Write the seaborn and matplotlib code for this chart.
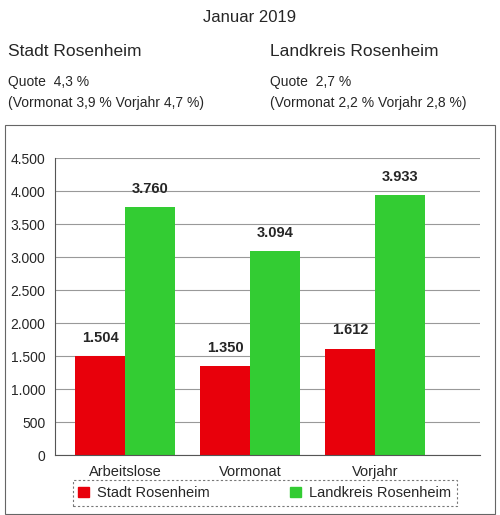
import matplotlib
matplotlib.use("Agg")
import matplotlib.pyplot as plt
import seaborn as sns
import pandas as pd
from matplotlib.patches import Rectangle

categories = ["Arbeitslose", "Vormonat", "Vorjahr"]
series = ["Stadt Rosenheim", "Landkreis Rosenheim"]
stadt = [1504, 1350, 1612]
landkreis = [3760, 3094, 3933]
colors = ["#e8000b", "#33cc33"]

rows = []
for c, s, l in zip(categories, stadt, landkreis):
    rows.append({"cat": c, "series": series[0], "val": s})
    rows.append({"cat": c, "series": series[1], "val": l})
df = pd.DataFrame(rows)

sns.set_style("white")
plt.rcParams["font.family"] = ["Liberation Sans", "DejaVu Sans"]

fig = plt.figure(figsize=(5, 5.15), dpi=100)
ax = fig.add_axes([0.11, 0.1165, 0.85, 0.5767])
sns.barplot(data=df, x="cat", y="val", hue="series", palette=colors,
            ax=ax, width=0.8, saturation=1, legend=False, linewidth=0)
ax.set_xlim(-0.56, 2.84)
ax.set_ylim(0, 4500)
ax.set_yticks(range(0, 4501, 500))
ax.set_yticklabels([f"{v:,}".replace(",", ".") for v in range(0, 4501, 500)], fontsize=10)
ax.tick_params(axis="x", labelsize=10.5, length=4, direction="out")
ax.set_xlabel(""); ax.set_ylabel("")
ax.yaxis.grid(True, color="#999999", linewidth=0.8)
ax.set_axisbelow(True)
for s in ["top", "right"]:
    ax.spines[s].set_visible(False)
ax.spines["left"].set_color("#555555")
ax.spines["bottom"].set_color("#555555")
for cont in ax.containers:
    ax.bar_label(cont, labels=[f"{int(v.get_height()):,}".replace(",", ".") for v in cont],
                 padding=8, fontsize=10.5, fontweight="bold")

fig.text(0.5, 1 - 18/515, "Januar 2019", ha="center", va="center", fontsize=12)
fig.text(0.016, 1 - 52/515, "Stadt Rosenheim", ha="left", va="center", fontsize=12.5)
fig.text(0.54, 1 - 52/515, "Landkreis Rosenheim", ha="left", va="center", fontsize=12.5)
fig.text(0.016, 1 - 82/515, "Quote  4,3 %", ha="left", va="center", fontsize=10)
fig.text(0.54, 1 - 82/515, "Quote  2,7 %", ha="left", va="center", fontsize=10)
fig.text(0.016, 1 - 103/515, "(Vormonat 3,9 % Vorjahr 4,7 %)", ha="left", va="center", fontsize=10)
fig.text(0.54, 1 - 103/515, "(Vormonat 2,2 % Vorjahr 2,8 %)", ha="left", va="center", fontsize=10)

fig.patches.append(Rectangle((0.01, 0.002), 0.98, 1 - 125/515 - 0.002, transform=fig.transFigure,
                             fill=False, edgecolor="#666666", linewidth=0.8))

handles = [Rectangle((0, 0), 1, 1, color=c) for c in colors]
leg = fig.legend(handles, series, loc="center", bbox_to_anchor=(0.53, 1 - 493/515),
                 ncol=2, frameon=True, fontsize=10.5, handlelength=0.7, handleheight=0.7,
                 columnspacing=5.5, fancybox=False, borderpad=0.4, borderaxespad=0,
                 handletextpad=0.6)
leg.get_frame().set_edgecolor("#555555")
leg.get_frame().set_linestyle((0, (2, 2)))
leg.get_frame().set_linewidth(0.8)

fig.savefig("out.png", dpi=100)
